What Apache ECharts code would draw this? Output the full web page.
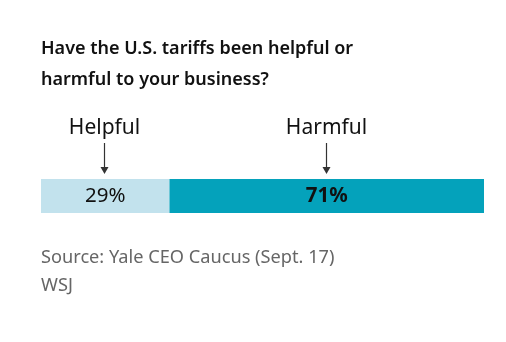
<!DOCTYPE html>
<html>
<head>
<meta charset="utf-8">
<script src="https://cdn.jsdelivr.net/npm/echarts@6/dist/echarts.min.js"></script>
<style>
  html, body { margin: 0; padding: 0; background: #fff; }
  #chart { width: 506px; height: 342px; }
</style>
</head>
<body>
<div id="chart"></div>
<script>
// Survey answers and their shares (percent)
const answers = ['Helpful', 'Harmful'];
const shares = [29, 71];
const colors = ['#c2e2ed', '#04a2bb'];
const labelWeights = ['normal', 'bold'];

const titleText = 'Have the U.S. tariffs been helpful or\nharmful to your business?';
const sourceText = 'Source: Yale CEO Caucus (Sept. 17)\nWSJ';
const FONT = '"Noto Sans", "Open Sans", sans-serif';

const chart = echarts.init(document.getElementById('chart'), null, { renderer: 'canvas' });

const series = answers.map((name, i) => ({
  name: name,
  type: 'bar',
  stack: 'total',
  barWidth: 34,
  data: [shares[i]],
  itemStyle: { color: colors[i] },
  label: {
    show: true,
    position: 'inside',
    formatter: '{c}%',
    color: '#111',
    fontFamily: FONT,
    fontSize: 20.5,
    fontWeight: labelWeights[i]
  },
  emphasis: { disabled: true },
  silent: true
}));

chart.setOption({
  animation: false,
  backgroundColor: '#fff',
  title: [
    {
      text: titleText,
      left: 41, top: 33, padding: 0,
      textStyle: { fontFamily: FONT, fontSize: 18, fontWeight: 600, color: '#111', lineHeight: 31 }
    },
    {
      text: sourceText,
      left: 41, top: 244, padding: 0,
      textStyle: { fontFamily: FONT, fontSize: 18.2, fontWeight: 'normal', color: '#666', lineHeight: 28 }
    }
  ],
  grid: { left: 41, right: 22, top: 179, height: 34, containLabel: false },
  xAxis: { type: 'value', min: 0, max: 100, show: false },
  yAxis: { type: 'category', data: ['share'], show: false },
  series: series
});

// Category names with arrows pointing down at the centre of each segment
function drawPointers() {
  const elements = [];
  let start = 0;
  answers.forEach((name, i) => {
    const mid = start + shares[i] / 2;
    start += shares[i];
    const p = chart.convertToPixel({ gridIndex: 0 }, [mid, 'share']);
    const x = Math.round(p[0]) - 0.5;
    elements.push({
      type: 'text',
      x: x, y: 128,
      style: {
        text: name, fill: '#111', font: '21px ' + FONT,
        align: 'center', verticalAlign: 'middle'
      },
      silent: true
    });
    elements.push({
      type: 'line',
      shape: { x1: x, y1: 143, x2: x, y2: 168 },
      style: { stroke: '#333', lineWidth: 1.2 },
      silent: true
    });
    elements.push({
      type: 'polygon',
      shape: { points: [[x - 4, 167], [x + 4, 167], [x, 174]] },
      style: { fill: '#333' },
      silent: true
    });
  });
  chart.setOption({ graphic: elements });
}
drawPointers();
</script>
</body>
</html>
